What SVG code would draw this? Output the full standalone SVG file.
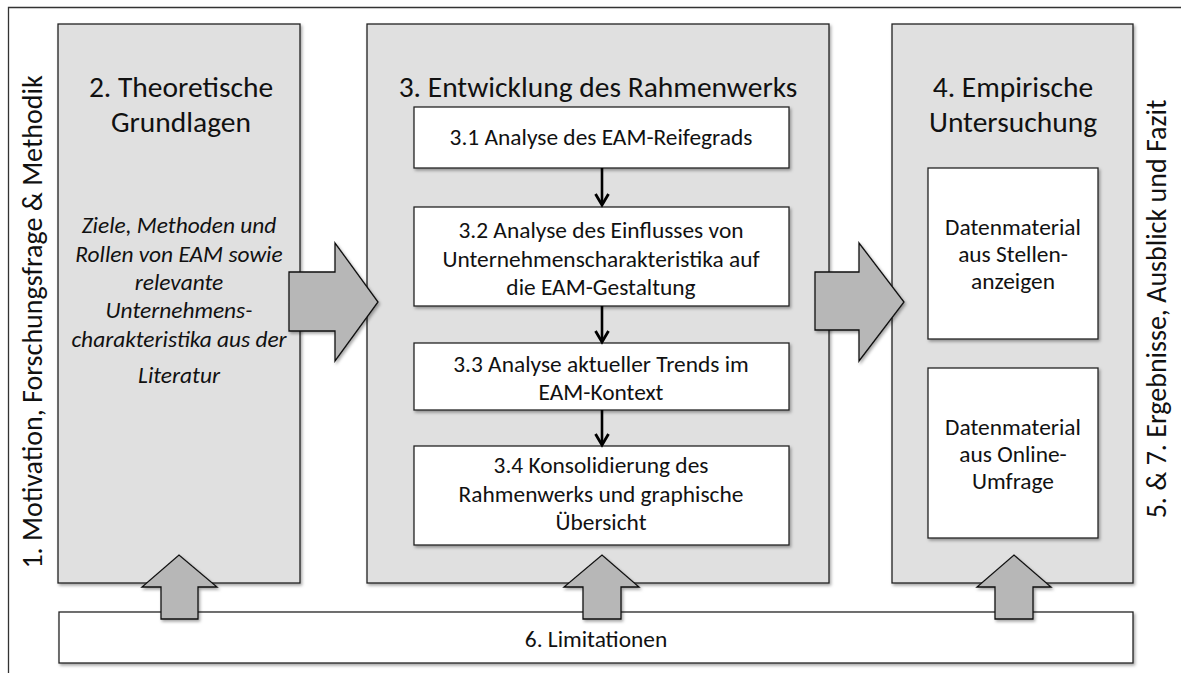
<svg xmlns="http://www.w3.org/2000/svg" width="1181" height="673" viewBox="0 0 1181 673">
<defs>
<style>
text{font-family:Carlito,"Liberation Sans",Arial,sans-serif;fill:#111;text-anchor:middle}
.panel{fill:#e0e0e0;stroke:#222;stroke-width:1.3}
.box{fill:#fff;stroke:#222;stroke-width:1.3}
.big{fill:#b7b7b7;stroke:#111;stroke-width:1.3;stroke-linejoin:miter}
.h{font-size:29.5px}
.v{font-size:28px}
.t{font-size:23.4px}
.it{font-size:23.4px;font-style:italic}
.conn{stroke:#000;stroke-width:2.6;fill:none}
.head{stroke:#000;stroke-width:2.8;fill:none;stroke-linejoin:miter}
</style>
<filter id="sh" x="-5%" y="-5%" width="115%" height="115%">
<feDropShadow dx="1.5" dy="2" stdDeviation="1.5" flood-color="#000" flood-opacity="0.35"/>
</filter>
</defs>
<rect width="1181" height="673" fill="#fff"/>
<path d="M8.5,690 V7.5 H1200" fill="none" stroke="#333" stroke-width="1.3"/>
<g id="side-left">
<text class="v" transform="translate(42,322) rotate(-90)">1. Motivation, Forschungsfrage &amp; Methodik</text>
</g>
<g id="side-right">
<text class="v" transform="translate(1166,309) rotate(-90)">5. &amp; 7. Ergebnisse, Ausblick und Fazit</text>
</g>
<g id="panel2">
<rect class="panel" x="58" y="24" width="242" height="559" filter="url(#sh)"/>
<text class="h" x="181" y="97">2. Theoretische</text>
<text class="h" x="181" y="132">Grundlagen</text>
<text class="it" x="179" y="233">Ziele, Methoden und</text>
<text class="it" x="179" y="262">Rollen von EAM sowie</text>
<text class="it" x="179" y="290">relevante</text>
<text class="it" x="179" y="318">Unternehmens-</text>
<text class="it" x="179" y="347">charakteristika aus der</text>
<text class="it" x="179" y="383">Literatur</text>
</g>
<g id="panel3">
<rect class="panel" x="367" y="24" width="462" height="559" filter="url(#sh)"/>
<text class="h" x="598" y="97">3. Entwicklung des Rahmenwerks</text>
</g>
<g id="box31">
<rect class="box" x="414" y="107" width="375" height="61" filter="url(#sh)"/>
<text class="t" x="601" y="145">3.1 Analyse des EAM-Reifegrads</text>
</g>
<g id="box32">
<rect class="box" x="414" y="207" width="375" height="99" filter="url(#sh)"/>
<text class="t" x="601" y="238">3.2 Analyse des Einflusses von</text>
<text class="t" x="601" y="266.5">Unternehmenscharakteristika auf</text>
<text class="t" x="601" y="295">die EAM-Gestaltung</text>
</g>
<g id="box33">
<rect class="box" x="414" y="343" width="375" height="67" filter="url(#sh)"/>
<text class="t" x="601" y="372">3.3 Analyse aktueller Trends im</text>
<text class="t" x="601" y="400">EAM-Kontext</text>
</g>
<g id="box34">
<rect class="box" x="414" y="446" width="375" height="99" filter="url(#sh)"/>
<text class="t" x="601" y="473">3.4 Konsolidierung des</text>
<text class="t" x="601" y="501.5">Rahmenwerks und graphische</text>
<text class="t" x="601" y="530">Übersicht</text>
</g>
<g id="panel4">
<rect class="panel" x="892" y="24" width="241" height="559" filter="url(#sh)"/>
<text class="h" x="1013" y="97">4. Empirische</text>
<text class="h" x="1013" y="132">Untersuchung</text>
</g>
<g id="box41">
<rect class="box" x="928" y="168" width="170" height="171" filter="url(#sh)"/>
<text class="t" x="1013" y="235">Datenmaterial</text>
<text class="t" x="1013" y="262">aus Stellen-</text>
<text class="t" x="1013" y="289">anzeigen</text>
</g>
<g id="box42">
<rect class="box" x="928" y="368" width="170" height="170" filter="url(#sh)"/>
<text class="t" x="1013" y="435">Datenmaterial</text>
<text class="t" x="1013" y="462">aus Online-</text>
<text class="t" x="1013" y="489">Umfrage</text>
</g>
<g id="limitationen">
<rect class="box" x="59" y="612" width="1074" height="51" filter="url(#sh)"/>
<text class="t" x="596" y="647">6. Limitationen</text>
</g>
<g id="connectors">
<line class="conn" x1="602" y1="168" x2="602" y2="204"/>
<polyline class="head" points="595.5,194 602,205 608.5,194"/>
<line class="conn" x1="602" y1="306" x2="602" y2="341"/>
<polyline class="head" points="595.5,331 602,342 608.5,331"/>
<line class="conn" x1="602" y1="410" x2="602" y2="444"/>
<polyline class="head" points="595.5,434 602,445 608.5,434"/>
<polygon class="big" filter="url(#sh)" points="289,272 335,272 335,243 378,302 335,361 335,331 289,331"/>
<polygon class="big" filter="url(#sh)" points="815,272 859,272 859,243 904,302 859,361 859,330 815,330"/>
<polygon class="big" filter="url(#sh)" points="161,619 161,587 142,587 179,555 217,587 198,587 198,619"/>
<polygon class="big" filter="url(#sh)" points="583,619 583,587 564,587 602,555 639,587 621,587 621,619"/>
<polygon class="big" filter="url(#sh)" points="995,619 995,587 977,587 1014,555 1051,587 1033,587 1033,619"/>
</g>
</svg>
